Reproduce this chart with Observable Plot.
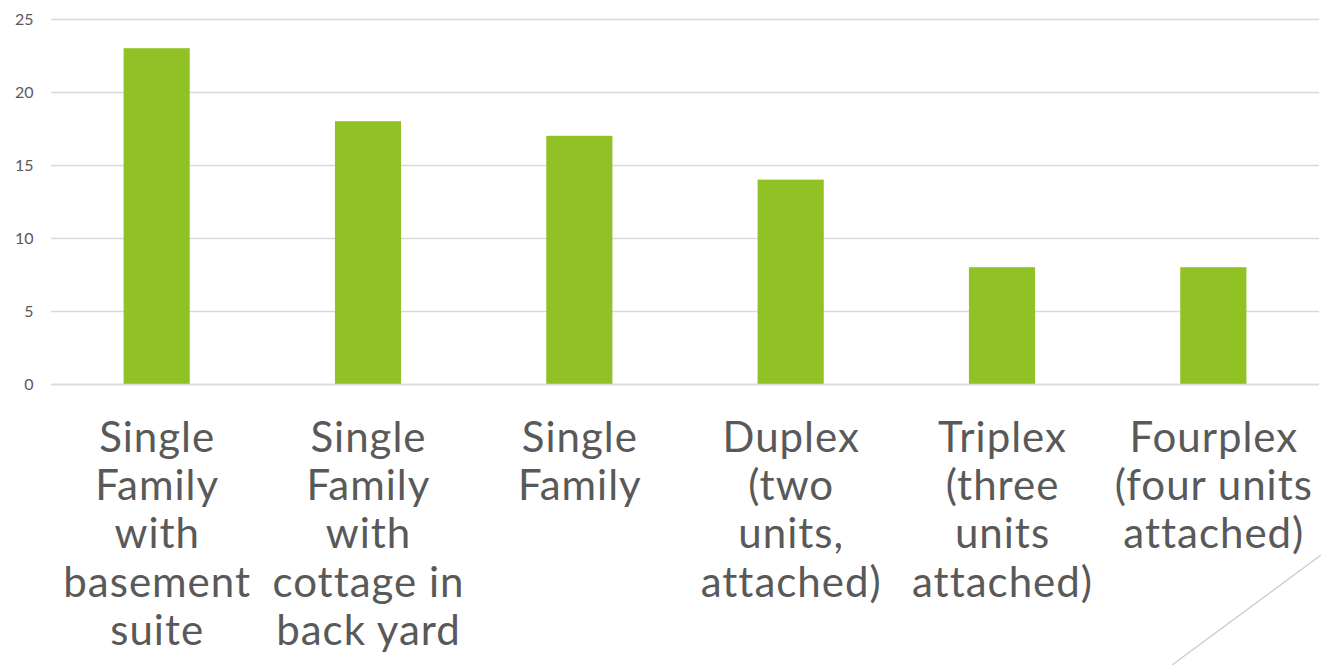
<!DOCTYPE html>
<html>
<head>
<meta charset="utf-8">
<script src="https://cdn.jsdelivr.net/npm/d3@7"></script>
<script src="https://cdn.jsdelivr.net/npm/@observablehq/plot@0.6"></script>
<style>
  html, body { margin: 0; padding: 0; background: #ffffff; }
  #wrap { position: relative; width: 1321px; height: 665px; overflow: hidden; }
  #chart svg { display: block; }
  #chart svg g[aria-label="x-axis tick label"] text { letter-spacing: 1px; }
  #deco { position: absolute; left: 0; top: 0; pointer-events: none; }
</style>
</head>
<body>
<div id="wrap">
  <div id="chart"></div>
  <svg id="deco" width="1321" height="665">
    <line x1="1172" y1="665" x2="1321" y2="555" stroke="#c8c8c8" stroke-width="1.2"/>
  </svg>
</div>
<script>
// Housing types and their counts
const categories = [
  "Single Family with basement suite",
  "Single Family with cottage in back yard",
  "Single Family",
  "Duplex (two units, attached)",
  "Triplex (three units attached)",
  "Fourplex (four units attached)"
];
const labelLines = [
  "Single\nFamily\nwith\nbasement\nsuite",
  "Single\nFamily\nwith\ncottage in\nback yard",
  "Single\nFamily",
  "Duplex\n(two\nunits,\nattached)",
  "Triplex\n(three\nunits\nattached)",
  "Fourplex\n(four units\nattached)"
];
const values = [23, 18, 17, 14, 8, 8];
const yTicks = [0, 5, 10, 15, 20, 25];

const data = categories.map((c, i) => ({ category: c, value: values[i] }));
const labelOf = new Map(categories.map((c, i) => [c, labelLines[i]]));

const chart = Plot.plot({
  width: 1321,
  height: 665,
  marginLeft: 51,
  marginRight: 2,
  marginTop: 19,
  marginBottom: 281,
  style: { background: "#ffffff", fontFamily: "Lato, sans-serif" },
  x: { domain: categories, paddingInner: 0.687, paddingOuter: 0.3435, round: false, label: null },
  y: { domain: [0, 25], ticks: yTicks, label: null },
  marks: [
    Plot.gridY(yTicks, { stroke: "#d9d9d9", strokeOpacity: 1, strokeWidth: 1.5 }),
    Plot.barY(data, { x: "category", y: "value", fill: "#90c226" }),
    Plot.ruleY([0], { stroke: "#d9d9d9", strokeWidth: 1.5 }),
    Plot.axisY(yTicks, {
      tickSize: 0, tickPadding: 18, fontSize: 16, color: "#595959"
    }),
    Plot.axisX({
      tickSize: 0, tickPadding: 33, fontSize: 42, lineHeight: 1.15,
      color: "#595959", tickFormat: d => labelOf.get(d)
    })
  ]
});
document.getElementById("chart").appendChild(chart);
</script>
</body>
</html>
